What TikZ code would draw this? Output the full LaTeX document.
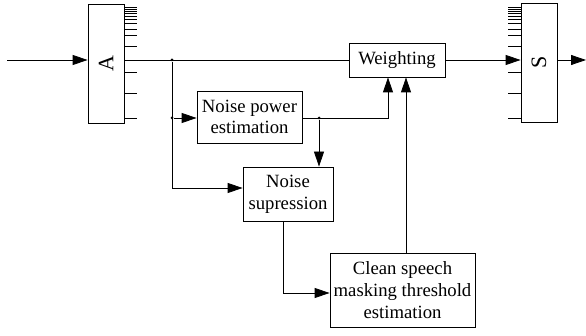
\documentclass[tikz,border=0pt]{standalone}
\usepackage{fontspec}
\setmainfont{Liberation Serif}
\usetikzlibrary{arrows.meta}
\begin{document}
\begin{tikzpicture}[x=1pt,y=-1pt,
  line width=0.8pt,
  blk/.style={draw,rectangle,inner sep=0pt,align=center,
    font=\fontsize{18.7}{21.7}\selectfont},
  bank/.style={draw,rectangle,inner sep=0pt,minimum width=36pt,minimum height=119pt,
    font=\fontsize{22}{24}\selectfont},
  arr/.style={-{Triangle[length=15pt,width=10pt]}},
  jdot/.style={circle,fill,inner sep=0pt,minimum size=3pt}]
\useasboundingbox (0,0) rectangle (586,336);

% analysis and synthesis filter banks
\node[bank] (A) at (106,63.5) {\rotatebox{90}{A}};
\node[bank] (S) at (539,62.5) {\rotatebox{90}{S}};

% band taps on the filter banks
\foreach \t in {7.3,9.3,11.3,13.3,16,19,23,29.3,35.7,46.7,72.7,93.3,118}{
  \draw (A.east |- 0,\t) -- ++(13,0);
  \draw (S.west |- 0,\t) -- ++(-13,0);
}

% processing blocks
\node[blk,minimum width=96pt,minimum height=34pt] (W) at (397,60) {Weighting};
\node[blk,minimum width=105pt,minimum height=52pt] (NP) at (249.5,117) {Noise power\\estimation};
\node[blk,minimum width=90pt,minimum height=54pt] (NS) at (288,194) {Noise\\supression};
\node[blk,minimum width=145pt,minimum height=74pt] (CS) at (402.5,290) {Clean speech\\masking threshold\\estimation};

% junctions and free ends
\coordinate (in) at (7,60);
\coordinate (out) at (586,60);
\node[jdot] (j1) at (172,60) {};
\node[jdot] (j2) at (172,118) {};
\node[jdot] (j3) at (319,118) {};

% signal paths
\draw[arr] (in) -- (in -| A.west);
\draw (A.east |- in) -- (W.west);
\draw (j1) -- (172,188);
\draw[arr] (j2) -- (NP.west |- j2);
\draw[arr] (172,188) -- (NS.west |- 0,188);
\draw[arr] (NP.east |- j3) -- (388,118) -- (W.south -| 388,0);
\draw[arr] (j3) -- (NS.north -| j3);
\draw[arr] (NS.south -| 283,0) -- (283,293) -- (CS.west |- 0,293);
\draw[arr] (CS.north -| 406,0) -- (W.south -| 406,0);
\draw[arr] (W.east) -- (S.west |- W.east);
\draw[arr] (S.east |- out) -- (out);
\end{tikzpicture}
\end{document}
